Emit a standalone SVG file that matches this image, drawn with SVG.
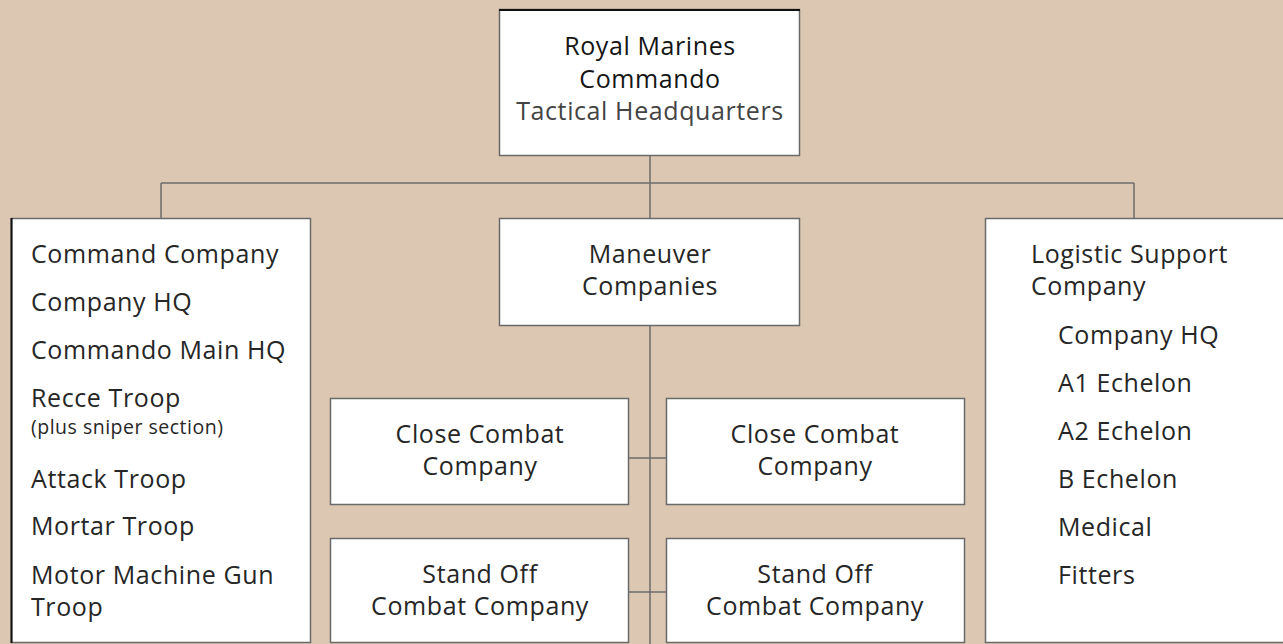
<svg xmlns="http://www.w3.org/2000/svg" width="1283" height="644" viewBox="0 0 1283 644">
<style>
.box{fill:#fff;stroke:#6a6a6a;stroke-width:1.5}
.t{font-family:"Open Sans","Noto Sans","Liberation Sans",sans-serif;font-size:25px;letter-spacing:0.6px;fill:#262626}
.c{text-anchor:middle}
.s{font-size:19.5px;letter-spacing:0.5px}
.lt{fill:#444}
.hd{font-weight:500;fill:#151515}
.conn{stroke:#6e6e6e;stroke-width:1.5;fill:none}
</style>
<rect width="1283" height="644" fill="#dcc7b2"/>
<g id="connectors" class="conn">
<path d="M650 155V218M161 183H1134M161 183V218M1134 183V218M650 325V644M628 458H666M628 592H666"/>
</g>
<g id="tactical-hq">
<rect class="box" x="499.5" y="9.5" width="300" height="146"/>
<line x1="499" y1="10" x2="800" y2="10" stroke="#111" stroke-width="2"/>
<text class="t c hd" x="650" y="55">Royal Marines</text>
<text class="t c hd" x="650" y="88">Commando</text>
<text class="t c lt" x="650" y="120">Tactical Headquarters</text>
</g>
<g id="command-company">
<rect class="box" x="11.5" y="218.5" width="299" height="424"/>
<line x1="11.5" y1="218" x2="11.5" y2="643" stroke="#111" stroke-width="2"/>
<text class="t" x="31" y="263">Command Company</text>
<text class="t" x="31" y="311">Company HQ</text>
<text class="t" x="31" y="359">Commando Main HQ</text>
<text class="t" x="31" y="407">Recce Troop</text>
<text class="t s" x="31" y="434">(plus sniper section)</text>
<text class="t" x="31" y="488">Attack Troop</text>
<text class="t" x="31" y="535">Mortar Troop</text>
<text class="t" x="31" y="584">Motor Machine Gun</text>
<text class="t" x="31" y="616">Troop</text>
</g>
<g id="maneuver">
<rect class="box" x="499.5" y="218.5" width="300" height="107"/>
<text class="t c" x="650" y="263">Maneuver</text>
<text class="t c" x="650" y="295">Companies</text>
</g>
<g id="close-combat-1">
<rect class="box" x="330.5" y="398.5" width="298" height="106"/>
<text class="t c" x="480" y="443">Close Combat</text>
<text class="t c" x="480" y="475">Company</text>
</g>
<g id="close-combat-2">
<rect class="box" x="666.5" y="398.5" width="298" height="106"/>
<text class="t c" x="815" y="443">Close Combat</text>
<text class="t c" x="815" y="475">Company</text>
</g>
<g id="stand-off-1">
<rect class="box" x="330.5" y="538.5" width="298" height="104"/>
<text class="t c" x="480" y="583">Stand Off</text>
<text class="t c" x="480" y="615">Combat Company</text>
</g>
<g id="stand-off-2">
<rect class="box" x="666.5" y="538.5" width="298" height="104"/>
<text class="t c" x="815" y="583">Stand Off</text>
<text class="t c" x="815" y="615">Combat Company</text>
</g>
<g id="logistic-support">
<rect class="box" x="985.5" y="218.5" width="320" height="424"/>
<text class="t" x="1031" y="263">Logistic Support</text>
<text class="t" x="1031" y="295">Company</text>
<text class="t" x="1058" y="344">Company HQ</text>
<text class="t" x="1058" y="392">A1 Echelon</text>
<text class="t" x="1058" y="440">A2 Echelon</text>
<text class="t" x="1058" y="488">B Echelon</text>
<text class="t" x="1058" y="536">Medical</text>
<text class="t" x="1058" y="584">Fitters</text>
</g>
</svg>
